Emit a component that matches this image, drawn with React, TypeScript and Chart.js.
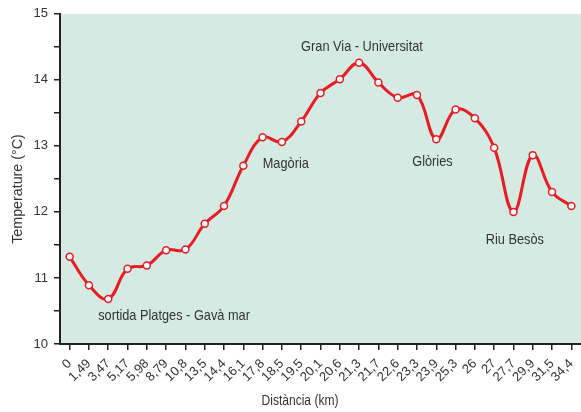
import React, { useEffect, useRef } from "react";
import { Chart, registerables } from "chart.js";

Chart.register(...registerables);

const distances = ["0", "1,49", "3,47", "5,17", "5,98", "8,79", "10,8", "13,5", "14,4", "16,1", "17,8", "18,5", "19,5", "20,1", "20,6", "21,3", "21,7", "22,6", "23,3", "23,9", "25,3", "26", "27", "27,7", "29,9", "31,5", "34,4"];
const temperatures = [11.32, 10.89, 10.68, 11.14, 11.19, 11.42, 11.43, 11.82, 12.09, 12.7, 13.13, 13.06, 13.37, 13.8, 14.01, 14.26, 13.96, 13.73, 13.77, 13.1, 13.55, 13.42, 12.97, 12.0, 12.86, 12.3, 12.09];
const annotationTexts = ["sortida Platges - Gavà mar", "Magòria", "Gran Via - Universitat", "Glòries", "Riu Besòs"];
const annotationX = [5.41, 11.2, 15.15, 18.8, 23.07];
const annotationY = [10.42, 12.73, 14.5, 12.76, 11.58];
const xTitle = "Distància (km)";
const yTitle = "Temperature (°C)";

const FONT = "'Liberation Sans Narrow', 'Arial Narrow', 'Liberation Sans', Arial, sans-serif";
const TEXT = "#333333";

function drawNarrow(ctx: any, text: string, x: number, y: number, size: number, sx: number, rot = 0) {
  ctx.save();
  ctx.translate(x, y);
  if (rot) ctx.rotate(rot);
  ctx.scale(sx, 1);
  ctx.font = `${size}px ${FONT}`;
  ctx.textAlign = "center";
  ctx.textBaseline = "middle";
  ctx.fillStyle = TEXT;
  ctx.fillText(text, 0, 0);
  ctx.restore();
}

const bgPlugin = {
  id: "bgPlugin",
  beforeDraw(chart: any) {
    const { ctx, chartArea } = chart;
    ctx.save();
    ctx.fillStyle = "#d5eae2";
    ctx.fillRect(chartArea.left, chartArea.top, chartArea.right - chartArea.left, chartArea.bottom - chartArea.top);
    ctx.restore();
  },
};

const labelPlugin = {
  id: "labelPlugin",
  afterDatasetsDraw(chart: any) {
    const { ctx } = chart;
    const xs = chart.scales.x;
    const ys = chart.scales.y;
    annotationTexts.forEach((t, i) => {
      drawNarrow(ctx, t, xs.getPixelForValue(annotationX[i]), ys.getPixelForValue(annotationY[i]), 14.5, 0.88);
    });
    drawNarrow(ctx, xTitle, 300, 401, 14, 0.86);
    drawNarrow(ctx, yTitle, 18, 189, 15.5, 0.92, -Math.PI / 2);
  },
};

export default function App() {
  const ref = useRef<HTMLCanvasElement>(null);
  useEffect(() => {
    document.body.style.margin = "0";
    const chart = new Chart(ref.current!, {
      type: "line",
      data: {
        labels: distances,
        datasets: [
          {
            data: temperatures,
            borderColor: "#e81c24",
            borderWidth: 3,
            tension: 0.4,
            pointRadius: 3.5,
            pointBorderWidth: 1.5,
            pointBackgroundColor: "#ffffff",
            pointBorderColor: "#e81c24",
          },
        ],
      },
      options: {
        responsive: false,
        animation: false,
        layout: { autoPadding: false, padding: { top: 12, right: 0, left: 0, bottom: 0 } },
        plugins: { legend: { display: false }, tooltip: { enabled: false } },
        scales: {
          x: {
            offset: true,
            afterFit(scale: any) {
              scale.height = 68;
              scale.paddingRight = 0;
              scale.paddingLeft = 0;
            },
            grid: { display: true, drawOnChartArea: false, drawTicks: true, tickLength: 6, color: "#222", lineWidth: 1.5 },
            border: { display: true, color: "#222", width: 2 },
            ticks: { autoSkip: false, minRotation: 45, maxRotation: 45, color: TEXT, font: { family: FONT, size: 13 }, padding: 6 },
          },
          y: {
            min: 10,
            max: 15,
            afterFit(scale: any) {
              scale.width = 60;
            },
            grid: { display: true, drawOnChartArea: false, drawTicks: true, tickLength: 6, color: "#222", lineWidth: 1.5 },
            border: { display: true, color: "#222", width: 2 },
            ticks: {
              stepSize: 0.5,
              color: TEXT,
              font: { family: FONT, size: 13 },
              padding: 6,
              callback: (v: any) => (Number.isInteger(v) ? String(v) : ""),
            },
          },
        },
      },
      plugins: [bgPlugin, labelPlugin],
    });
    return () => chart.destroy();
  }, []);
  return (
    <div style={{ position: "absolute", left: 0, top: 0, width: 581, height: 412 }}>
      <canvas ref={ref} width={581} height={412} style={{ width: 581, height: 412 }} />
    </div>
  );
}
